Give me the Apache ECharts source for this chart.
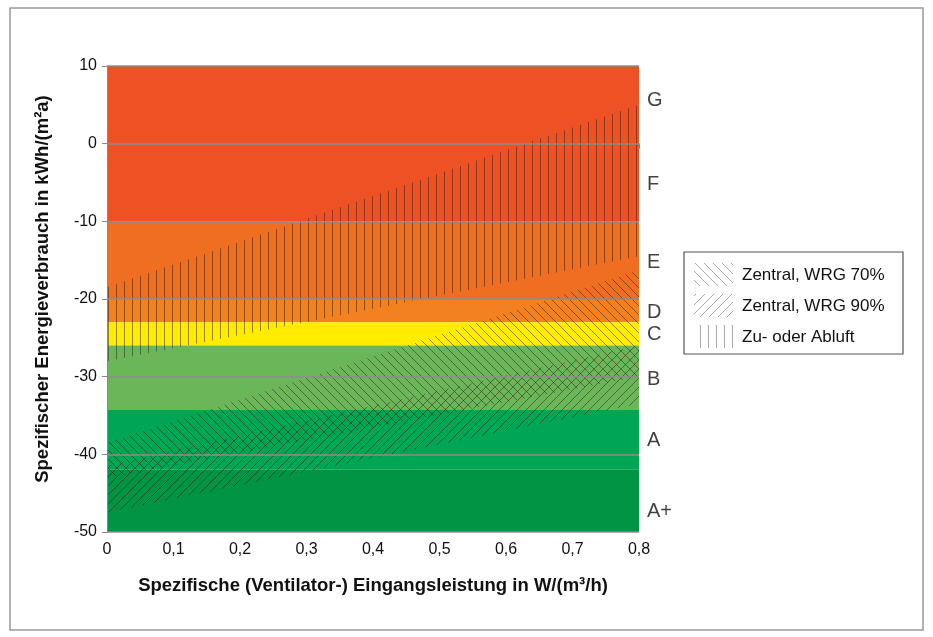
<!DOCTYPE html>
<html>
<head>
<meta charset="utf-8">
<script src="https://cdn.jsdelivr.net/npm/echarts@6/dist/echarts.min.js"></script>
<style>
  html, body { margin:0; padding:0; background:#fff; }
  #chart { width:933px; height:637px; }
</style>
</head>
<body>
<div id="chart"></div>
<script>
/* ===== Daten ===== */
const xTicks = [0, 0.1, 0.2, 0.3, 0.4, 0.5, 0.6, 0.7, 0.8];
const yTicks = [10, 0, -10, -20, -30, -40, -50];

// Effizienzklassen
const classNames  = ['G', 'F', 'E', 'D', 'C', 'B', 'A', 'A+'];
const classUpper  = [10, 0, -10, -20, -23, -26, -34.3, -42];
const classLower  = [0, -10, -20, -23, -26, -34.3, -42, -50];
const classLabelY = [5.5, -5.3, -15.3, -21.7, -24.6, -30.4, -38.2, -47.3];
const classColors = ['#ee5224', '#ee5224', '#f06e21', '#f4811f', '#ffec00', '#6cb65a', '#00a651', '#009444'];

// Schraffierte Bereiche: Werte bei 0 und 0,8 W/(m³/h)
const power          = [0, 0.8];
const zuAbluftTop    = [-18.5, 5];
const zuAbluftBottom = [-28, -14.5];
const wrg70Top       = [-38.5, -16.3];
const wrg70Bottom    = [-43, -30];
const wrg90Top       = [-41.5, -26];
const wrg90Bottom    = [-47.5, -33.5];

const legendNames = ['Zentral, WRG 70%', 'Zentral, WRG 90%', 'Zu- oder Abluft'];

/* ===== Schraffur-Muster (pixelgenau, nahtlos) ===== */
function hatch(kind, color, size) {
  const c = document.createElement('canvas');
  c.width = size; c.height = size;
  const ctx = c.getContext('2d');
  ctx.fillStyle = color;
  for (let i = 0; i < size; i++) {
    if (kind === 'v') ctx.fillRect(Math.floor(size / 2), i, 1, 1);
    else if (kind === 'b') ctx.fillRect(i, i, 1, 1);
    else ctx.fillRect(size - 1 - i, i, 1, 1);
  }
  return { image: c, repeat: 'repeat' };
}

const lineDark = 'rgba(40,30,20,0.5)';
const pat70 = hatch('b', lineDark, 9);
const pat90 = hatch('f', lineDark, 9);
const patZA = hatch('v', lineDark, 8);
const legendPats = [hatch('b', '#aaa', 9), hatch('f', '#aaa', 9), hatch('v', '#aaa', 8)];

const font = 'Liberation Sans, Arial, sans-serif';

/* ===== Chart ===== */
const chart = echarts.init(document.getElementById('chart'));

const bandData = classNames.map((n, i) => [0, classUpper[i], 0.8, classLower[i], i]);

function zone(top, bottom) {
  return [power[0], top[0], power[1], top[1], bottom[0], bottom[1]];
}

function zoneSeries(name, data, pat) {
  return {
    type: 'custom',
    name: name,
    z: 5,
    silent: true,
    data: [data],
    encode: { x: [0, 2], y: [1, 3, 4, 5] },
    renderItem: (params, api) => {
      const p0 = api.value(0), p1 = api.value(2);
      const pts = [
        api.coord([p0, api.value(1)]),
        api.coord([p1, api.value(3)]),
        api.coord([p1, api.value(5)]),
        api.coord([p0, api.value(4)])
      ];
      return { type: 'polygon', shape: { points: pts }, style: { fill: pat } };
    }
  };
}

const legendGraphics = [{
  type: 'rect',
  shape: { x: 684, y: 252, width: 219, height: 102 },
  style: { fill: '#fff', stroke: '#555', lineWidth: 1.2 }
}];
legendNames.forEach((n, i) => {
  const y = 263 + i * 31;
  legendGraphics.push({
    type: 'rect', shape: { x: 694, y: y, width: 39, height: 23 },
    style: { fill: legendPats[i] }
  });
  legendGraphics.push({
    type: 'text', x: 742, y: y + 12,
    style: { text: n, font: '17px ' + font, fill: '#111', textVerticalAlign: 'middle' }
  });
});

chart.setOption({
  animation: false,
  backgroundColor: '#fff',
  grid: { left: 107, right: 294, top: 66, bottom: 105 },
  xAxis: {
    type: 'value', min: 0, max: 0.8, interval: 0.1,
    name: 'Spezifische (Ventilator-) Eingangsleistung in W/(m³/h)',
    nameLocation: 'middle', nameGap: 44,
    nameTextStyle: { fontFamily: font, fontSize: 18.5, fontWeight: 'bold', color: '#111' },
    axisLine: { show: true, lineStyle: { color: '#888', width: 1 } },
    axisTick: { show: true, length: 5, lineStyle: { color: '#888' } },
    axisLabel: {
      fontFamily: font, fontSize: 16, color: '#111', margin: 10,
      formatter: v => v === 0 ? '0' : v.toFixed(1).replace('.', ',')
    },
    splitLine: { show: false }
  },
  yAxis: {
    type: 'value', min: -50, max: 10, interval: 10, z: 10,
    name: 'Spezifischer Energieverbrauch in kWh/(m²a)',
    nameLocation: 'middle', nameGap: 55,
    nameTextStyle: { fontFamily: font, fontSize: 18.5, fontWeight: 'bold', color: '#111', padding: [0, 0, 0, 20] },
    axisLine: { show: true, lineStyle: { color: '#888', width: 1 } },
    axisTick: { show: true, length: 5, lineStyle: { color: '#888' } },
    axisLabel: { fontFamily: font, fontSize: 16, color: '#111', margin: 10 },
    splitLine: { show: true, lineStyle: { color: '#8c8c8c', width: 1.5 } }
  },
  graphic: [{
    type: 'rect', z: -10,
    shape: { x: 10, y: 8, width: 913, height: 622 },
    style: { fill: 'none', stroke: '#999', lineWidth: 1.5 }
  }].concat(legendGraphics),
  series: [
    {
      type: 'custom', name: 'Klassen', z: 1, silent: true,
      data: bandData,
      encode: { x: [0, 2], y: [1, 3] },
      renderItem: (params, api) => {
        const a = api.coord([api.value(0), api.value(1)]);
        const b = api.coord([api.value(2), api.value(3)]);
        return {
          type: 'rect',
          shape: { x: a[0], y: a[1], width: b[0] - a[0], height: b[1] - a[1] },
          style: { fill: classColors[api.value(4)] }
        };
      }
    },
    zoneSeries('Zu- oder Abluft', zone(zuAbluftTop, zuAbluftBottom), patZA),
    zoneSeries('Zentral, WRG 70%', zone(wrg70Top, wrg70Bottom), pat70),
    zoneSeries('Zentral, WRG 90%', zone(wrg90Top, wrg90Bottom), pat90),
    {
      type: 'scatter', name: 'Labels', clip: false, silent: true,
      symbolSize: 0,
      data: classNames.map((n, i) => ({ name: n, value: [0.8, classLabelY[i]] })),
      label: {
        show: true, position: 'right', distance: 8, formatter: '{b}',
        fontFamily: font, fontSize: 20, color: '#111'
      }
    }
  ]
});
</script>
</body>
</html>
